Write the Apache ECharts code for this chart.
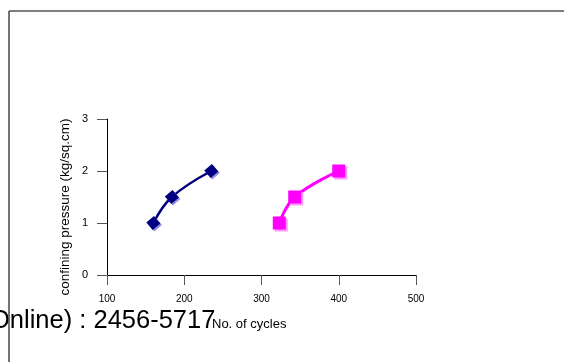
<!DOCTYPE html>
<html>
<head>
<meta charset="utf-8">
<script src="https://cdn.jsdelivr.net/npm/echarts@6/dist/echarts.min.js"></script>
<style>
html,body{margin:0;padding:0;background:#fff;}
#c{width:564px;height:362px;}
</style>
</head>
<body>
<div id="c"></div>
<script>
var navyCycles = [160, 184, 235];
var navyPressure = [1, 1.5, 2];
var pinkCycles = [323, 343, 400];
var pinkPressure = [1, 1.5, 2];
var xTicks = [100, 200, 300, 400, 500];
var yTicks = [0, 1, 2, 3];
var xTitle = 'No. of cycles';
var yTitle = 'confining pressure (kg/sq.cm)';
var footerText = 'Online) : 2456-5717';

function pairs(xs, ys) { return xs.map(function (x, i) { return [x, ys[i]]; }); }

var chart = echarts.init(document.getElementById('c'), null, {renderer: 'canvas'});
chart.setOption({
  backgroundColor: '#fff',
  animation: false,
  grid: {left: 107, top: 119, width: 309, height: 156, containLabel: false},
  xAxis: {
    type: 'value', min: xTicks[0], max: xTicks[xTicks.length - 1], interval: 100,
    axisLine: {show: true, lineStyle: {color: '#000', width: 1}},
    axisTick: {show: true, length: 10, lineStyle: {color: '#555'}},
    axisLabel: {margin: 19, fontSize: 10, color: '#000', fontFamily: 'Liberation Sans, Arial, sans-serif'},
    splitLine: {show: false}
  },
  yAxis: {
    type: 'value', min: yTicks[0], max: yTicks[yTicks.length - 1], interval: 1,
    axisLine: {show: true, lineStyle: {color: '#000', width: 1}},
    axisTick: {show: true, length: 10, lineStyle: {color: '#555'}},
    axisLabel: {margin: 19, fontSize: 11, color: '#000', fontFamily: 'Liberation Sans, Arial, sans-serif'},
    splitLine: {show: false}
  },
  series: [
    {
      type: 'line', data: pairs(navyCycles, navyPressure), smooth: 0.4,
      symbol: 'rect', symbolSize: 10, symbolRotate: 40,
      lineStyle: {color: '#000080', width: 2.5},
      itemStyle: {color: '#000080', shadowColor: '#9090e0', shadowOffsetX: 1.5, shadowOffsetY: 1.5, shadowBlur: 0}
    },
    {
      type: 'line', data: pairs(pinkCycles, pinkPressure), smooth: 0.4,
      symbol: 'rect', symbolSize: 13,
      lineStyle: {color: '#ff00ff', width: 3},
      itemStyle: {color: '#ff00ff', shadowColor: '#ff99ff', shadowOffsetX: 2, shadowOffsetY: 2, shadowBlur: 0}
    }
  ],
  graphic: [
    {type: 'text', left: -10, top: 308, z: 5,
     style: {text: footerText, fontSize: 25.5, fill: '#000', fontFamily: 'Liberation Sans, Arial, sans-serif'}},
    {type: 'text', left: 212, top: 318, z: 6,
     style: {text: xTitle, fontSize: 13, fill: '#000', fontFamily: 'Liberation Sans, Arial, sans-serif'}},
    {type: 'text', x: 65, y: 207, rotation: Math.PI / 2, z: 6,
     style: {text: yTitle, fontSize: 13.5, fill: '#000', align: 'center', verticalAlign: 'middle', fontFamily: 'Liberation Sans, Arial, sans-serif'}},
    {type: 'line', z: 10, shape: {x1: 9, y1: 11, x2: 564, y2: 11}, style: {stroke: '#555', lineWidth: 1.5}},
    {type: 'line', z: 10, shape: {x1: 9, y1: 11, x2: 9, y2: 362}, style: {stroke: '#444', lineWidth: 1.5}}
  ]
});
</script>
</body>
</html>
